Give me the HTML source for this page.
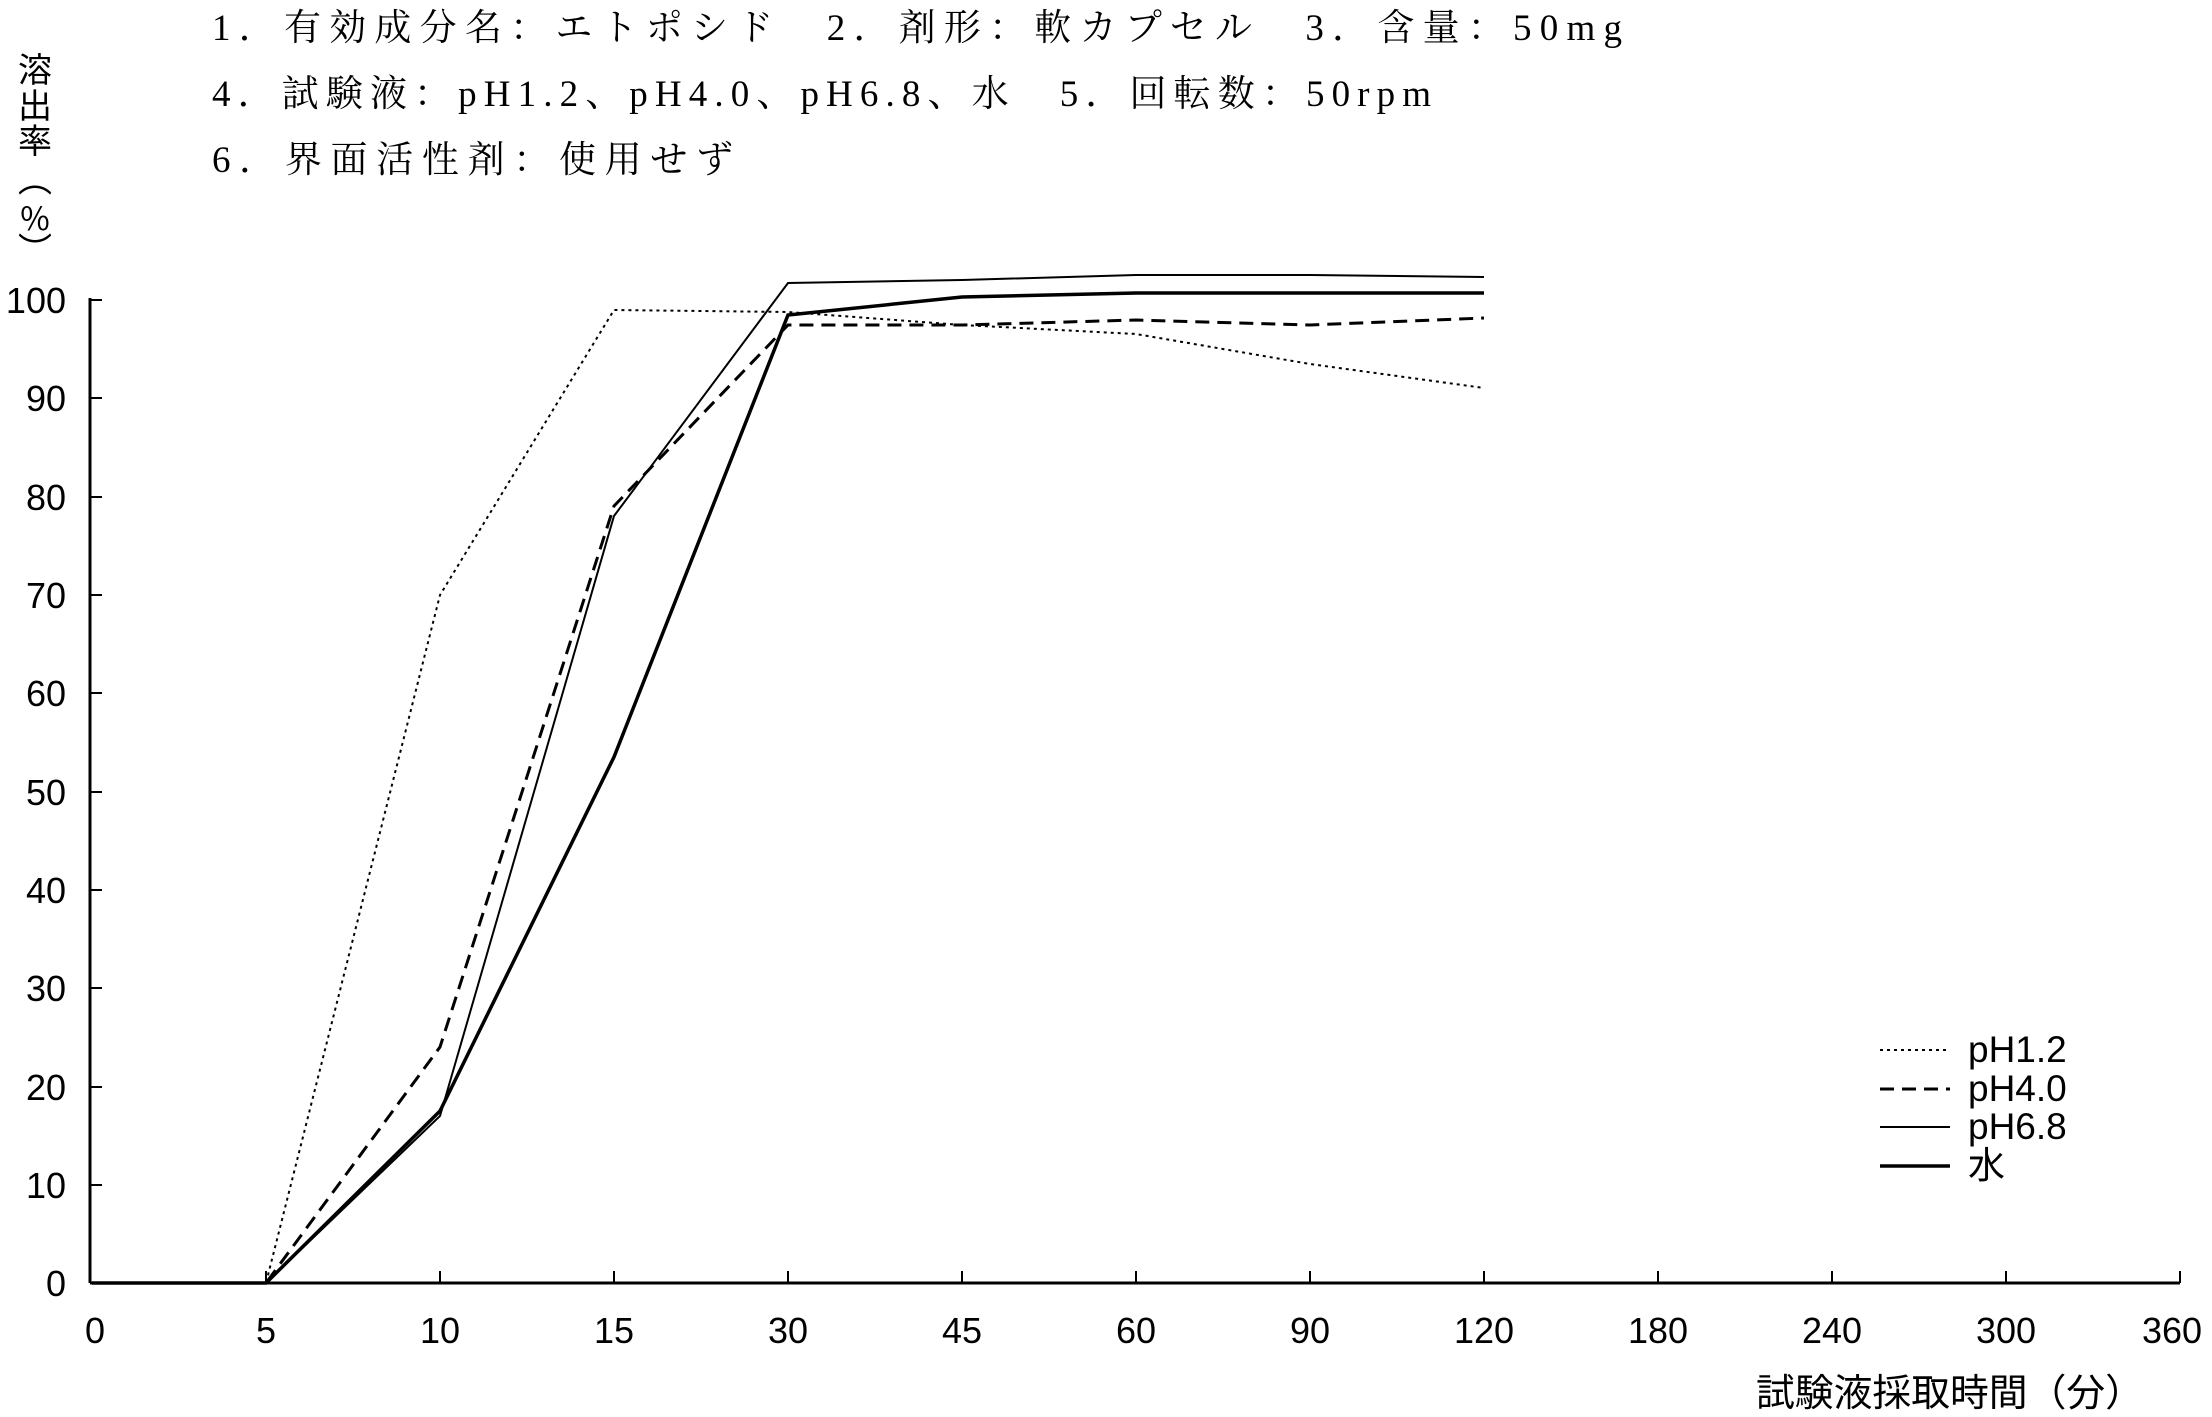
<!DOCTYPE html>
<html><head><meta charset="utf-8"><style>
body{margin:0;background:#fff;}
svg{display:block;}
text{font-family:"Liberation Sans","Noto Sans CJK JP",sans-serif;fill:#000;}
.h{font-family:"Liberation Serif","Noto Serif CJK SC",serif;font-size:37px;}
.j{font-family:"Noto Sans CJK JP",sans-serif;}
</style></head><body>
<svg width="2212" height="1417" viewBox="0 0 2212 1417" xmlns="http://www.w3.org/2000/svg">
<text class="h" x="212" y="40" textLength="1410" lengthAdjust="spacing">1．有効成分名：エトポシド　2．剤形：軟カプセル　3．含量：50mg</text>
<text class="h" x="212" y="106" textLength="1219" lengthAdjust="spacing">4．試験液：pH1.2、pH4.0、pH6.8、水　5．回転数：50rpm</text>
<text class="h" x="212" y="172" textLength="521" lengthAdjust="spacing">6．界面活性剤：使用せず</text>
<g class="j" font-size="34" text-anchor="middle">
<text x="35" y="82" class="j">溶</text>
<text x="35" y="118" class="j">出</text>
<text x="35" y="153" class="j">率</text>
<text x="35" y="192" class="j">︵</text>
<text x="35" y="230" class="j" font-size="32">%</text>
<text x="35" y="262" class="j">︶</text>
</g>
<g stroke="#000" stroke-width="3" fill="none">
<line x1="90" y1="1283" x2="2180" y2="1283"/>
<line x1="90" y1="298" x2="90" y2="1283"/>
</g>
<g stroke="#000" stroke-width="2">
<line x1="90" y1="300" x2="102" y2="300"/><line x1="90" y1="398" x2="102" y2="398"/><line x1="90" y1="497" x2="102" y2="497"/><line x1="90" y1="595" x2="102" y2="595"/><line x1="90" y1="693" x2="102" y2="693"/><line x1="90" y1="792" x2="102" y2="792"/><line x1="90" y1="890" x2="102" y2="890"/><line x1="90" y1="988" x2="102" y2="988"/><line x1="90" y1="1087" x2="102" y2="1087"/><line x1="90" y1="1185" x2="102" y2="1185"/>
<line x1="266" y1="1283" x2="266" y2="1271"/><line x1="440" y1="1283" x2="440" y2="1271"/><line x1="614" y1="1283" x2="614" y2="1271"/><line x1="788" y1="1283" x2="788" y2="1271"/><line x1="962" y1="1283" x2="962" y2="1271"/><line x1="1136" y1="1283" x2="1136" y2="1271"/><line x1="1310" y1="1283" x2="1310" y2="1271"/><line x1="1484" y1="1283" x2="1484" y2="1271"/><line x1="1658" y1="1283" x2="1658" y2="1271"/><line x1="1832" y1="1283" x2="1832" y2="1271"/><line x1="2006" y1="1283" x2="2006" y2="1271"/><line x1="2180" y1="1283" x2="2180" y2="1271"/>
</g>
<g font-size="36" text-anchor="end">
<text x="66" y="313">100</text><text x="66" y="411">90</text><text x="66" y="510">80</text><text x="66" y="608">70</text><text x="66" y="706">60</text><text x="66" y="805">50</text><text x="66" y="903">40</text><text x="66" y="1001">30</text><text x="66" y="1100">20</text><text x="66" y="1198">10</text><text x="66" y="1296">0</text>
</g>
<g font-size="36" text-anchor="middle">
<text x="95" y="1343">0</text><text x="266" y="1343">5</text><text x="440" y="1343">10</text><text x="614" y="1343">15</text><text x="788" y="1343">30</text><text x="962" y="1343">45</text><text x="1136" y="1343">60</text><text x="1310" y="1343">90</text><text x="1484" y="1343">120</text><text x="1658" y="1343">180</text><text x="1832" y="1343">240</text><text x="2006" y="1343">300</text><text x="2172" y="1343">360</text>
</g>
<text x="1756" y="1406" font-size="38" class="j" textLength="388" lengthAdjust="spacingAndGlyphs">試験液採取時間（分）</text>
<g fill="none" stroke="#000">
<polyline stroke-width="2" stroke-dasharray="3,4" points="92,1283 266,1283 440,595 614,310 788,312 962,325 1136,334 1310,364 1484,388"/>
<polyline stroke-width="3" stroke-dasharray="14,8" points="92,1283 266,1283 440,1047 614,506 788,325 962,325 1136,320 1310,325 1484,318"/>
<polyline stroke-width="2" points="92,1283 266,1283 440,1116 614,516 788,283 962,280 1136,275 1310,275 1484,277"/>
<polyline stroke-width="3.5" points="92,1283 266,1283 440,1111 614,757 788,315 962,297 1136,293 1310,293 1484,293"/>
<line x1="1880" y1="1050" x2="1950" y2="1050" stroke-width="2" stroke-dasharray="3,4"/>
<line x1="1880" y1="1089" x2="1950" y2="1089" stroke-width="3" stroke-dasharray="14,8"/>
<line x1="1880" y1="1127" x2="1950" y2="1127" stroke-width="2"/>
<line x1="1880" y1="1166" x2="1950" y2="1166" stroke-width="3.5"/>
</g>
<g font-size="37">
<text x="1968" y="1062">pH1.2</text><text x="1968" y="1101">pH4.0</text><text x="1968" y="1139">pH6.8</text><text x="1968" y="1178" class="j">水</text>
</g>
</svg>
</body></html>
